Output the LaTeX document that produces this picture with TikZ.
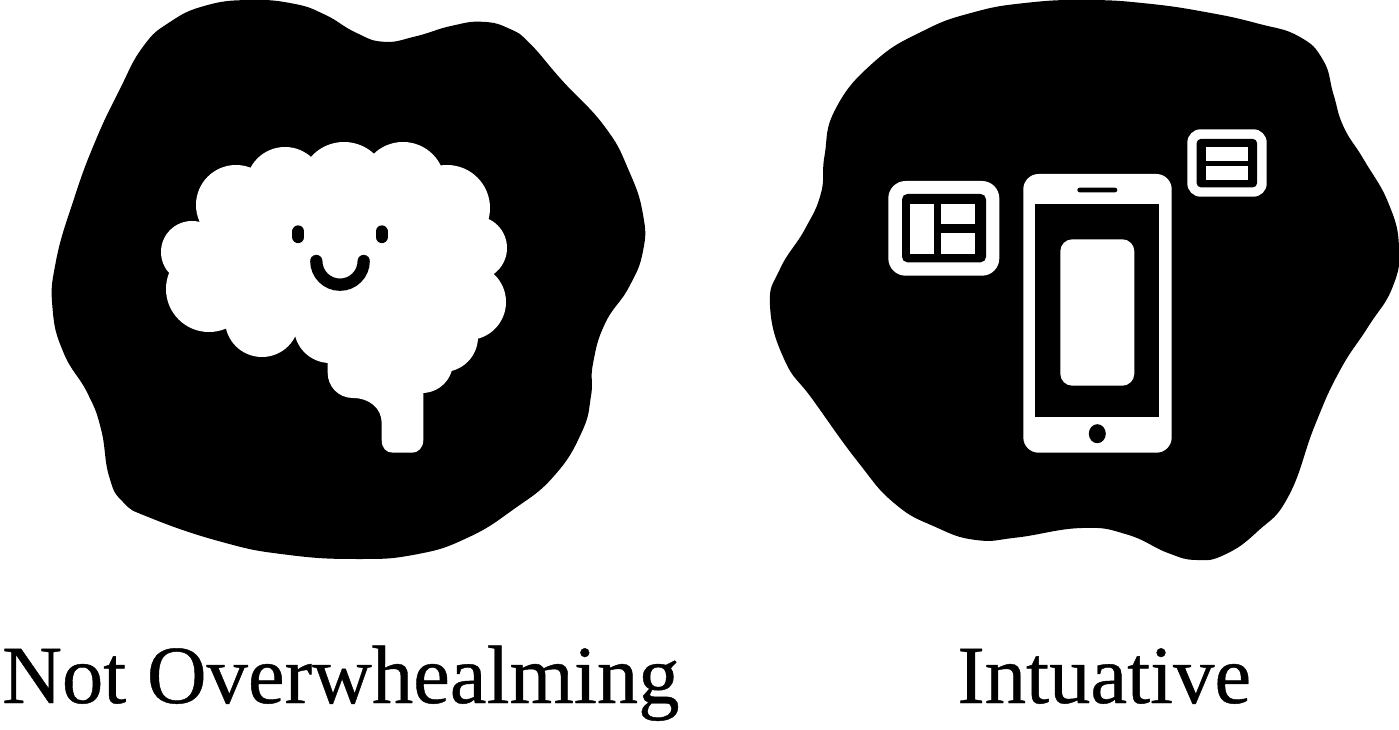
\documentclass[tikz,border=0pt]{standalone}
\usepackage{fontspec}
\setmainfont{Liberation Serif}
\newfontfamily\captionfont[FakeBold=0.5]{Liberation Serif}
\usepackage{xcolor}
\tikzset{
  blobshape/.style={fill=black},
  whiteshape/.style={fill=white},
  blackshape/.style={fill=black},
  captiontext/.style={anchor=base west,inner sep=0pt,font=\captionfont\fontsize{62}{62}\selectfont},
  facestroke/.style={draw=black,line width=9.2pt,line cap=round}
}
\begin{document}
\begin{tikzpicture}[x=0.75pt,y=0.75pt,yscale=-1,xscale=1]
\useasboundingbox (0,0) rectangle (1399,730);

%Shape: Left blob
\path [blobshape] plot [smooth cycle,tension=0.8] coordinates {(249.5,0) (293,3.6) (324.6,14.5) (356,32.7) (384,41.8) (415.5,36.4) (451,26) (482.7,21.8) (510,29) (530,43.6) (561.7,80) (605,127) (629,171) (643,214.5) (643,251) (629,287) (605,323.6) (593,363.6) (591,396) (581.5,432.7) (554,476) (514,509) (467,538) (415.5,554.5) (356,559) (285,554.5) (222,542) (150.7,518) (123,502) (109,476) (101,429) (87.4,393) (63.7,353) (52.6,309) (55.8,262) (73.6,200) (95,142) (119,91) (142.8,47) (170,22) (206,5.5)};
%Shape: Right blob
\path [blobshape] plot [smooth cycle,tension=0.8] coordinates {(1086.5,0) (1147.8,3.6) (1209,12.7) (1258,23.6) (1298.8,36.4) (1323,60) (1333.5,94.5) (1343.7,127) (1364,160) (1388.6,203.6) (1399,247) (1392.6,287) (1368,327) (1339.6,371) (1315,425) (1288.6,496) (1258,531) (1225,554.5) (1196.7,560) (1168,553) (1127,534.5) (1082,528) (1017,537.5) (976,540) (935.5,527) (894.7,503.6) (858,462) (813,400) (784.5,360) (770,305.5) (780,269) (805,229) (821,193) (824.5,156) (835.5,109) (874,62) (923,31) (972,12.7) (1025,3)};

%Shape: Brain lobes
\path [whiteshape] (192,252) circle (31) (209,289) circle (43) (236,205) circle (40) (285,186) circle (39) (344,186) circle (44) (403,184) circle (42) (447,208) circle (43) (475,248) circle (32) (468,302) circle (38) (443,337) circle (35) (422,362) circle (31) (262,320) circle (37) (330,327) circle (36);
%Shape: Brain middle and stem
\path [whiteshape] (220,180) -- (470,180) -- (470,330) -- (423.3,392) -- (423.3,440) .. controls (423.3,448) and (418,452.7) .. (412,452.7) -- (393,452.7) .. controls (386,452.7) and (381.7,448) .. (381.7,440) -- (381.7,423) .. controls (381.7,408) and (369,398) .. (353,398) .. controls (338,398) and (327.7,386) .. (327.7,373) -- (327.7,340) -- (220,300) -- cycle;

%Shape: Eyes and smile
\draw [facestroke] (298.3,231.5) -- (298.3,237);
\draw [facestroke] (381.7,231.5) -- (381.7,237);
\draw [facestroke] (316.3,261) arc [start angle=180,end angle=0,radius=23.7];

%Shape: Phone
\path [whiteshape,rounded corners=11.5pt] (1023.3,174) rectangle (1171.7,452.7);
\path [blackshape] (1035.3,204.3) rectangle (1159.3,417.3);
\path [whiteshape,rounded corners=9pt] (1060.3,239.3) rectangle (1134.3,385.7);
\path [blackshape,rounded corners=1.7pt] (1077.3,187.7) rectangle (1117.3,192.3);
\path [blackshape] (1097.3,433.7) ellipse [x radius=8.5,y radius=9.5];

%Shape: Left panel
\path [whiteshape,rounded corners=13pt] (888.3,181) rectangle (999.3,275.7);
\path [blackshape,rounded corners=4pt] (902,194) rectangle (986,262.3);
\path [whiteshape] (910.3,204) rectangle (933.7,254.3);
\path [whiteshape] (941,204) rectangle (975.3,224.3);
\path [whiteshape] (941,232.7) rectangle (975.3,254.3);

%Shape: Right panel
\path [whiteshape,rounded corners=10pt] (1187.3,129.3) rectangle (1266.7,196.7);
\path [blackshape,rounded corners=3pt] (1196.7,139) rectangle (1257,187.3);
\path [whiteshape] (1206,147) rectangle (1248,160.7);
\path [whiteshape] (1206,165.7) rectangle (1248,179.7);

% Text Node
\draw (2,703) node (notoverwhelm) [captiontext] {Not Overwhealming};
% Text Node
\draw (957,703) node (intuative) [captiontext] {Intuative};
\end{tikzpicture}
\end{document}
